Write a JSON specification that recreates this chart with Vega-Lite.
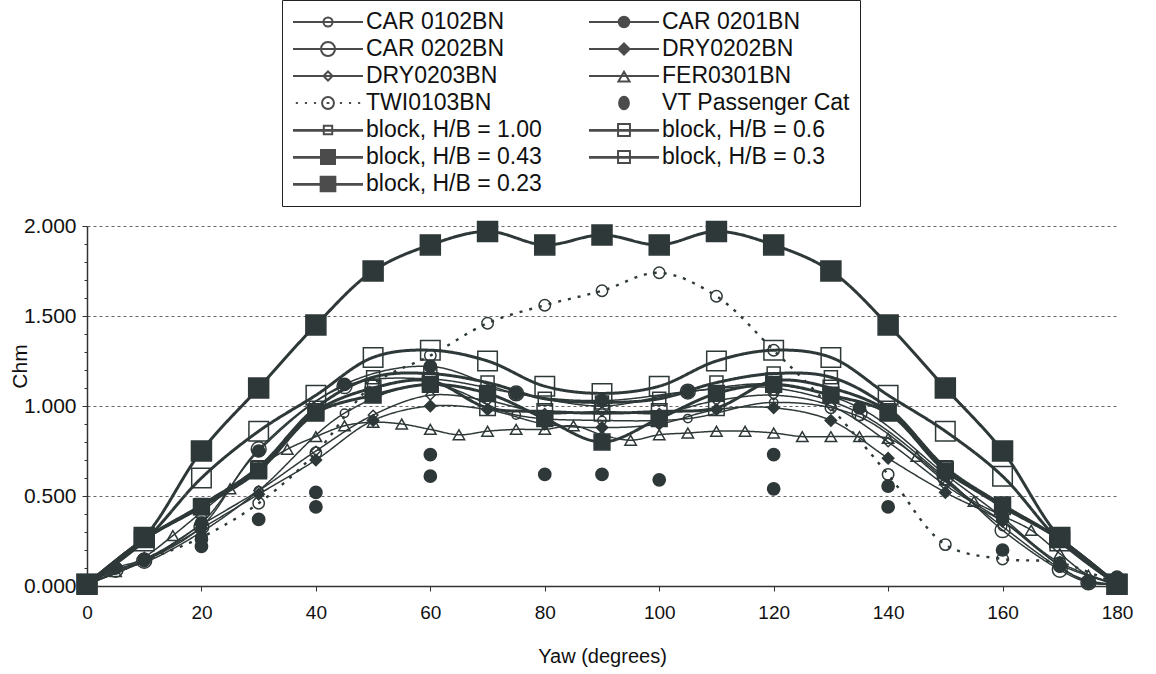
{
  "$schema": "https://vega.github.io/schema/vega-lite/v6.json",
  "width": 1030,
  "height": 360,
  "autosize": {"type": "none"},
  "padding": {"left": 87, "top": 226, "right": 39, "bottom": 88},
  "background": "white",
  "config": {
    "view": {"stroke": null},
    "font": "Liberation Sans",
    "axis": {"labelFont": "Liberation Sans", "titleFont": "Liberation Sans", "titleFontWeight": "normal", "labelColor": "#111", "titleColor": "#111", "domainColor": "#333", "tickColor": "#333", "domainWidth": 1.5}
  },
  "data": {"values": [
    {"s":"CAR 0102BN","x":0,"y":0.01},{"s":"CAR 0102BN","x":5,"y":0.09},{"s":"CAR 0102BN","x":10,"y":0.13},{"s":"CAR 0102BN","x":20,"y":0.3},{"s":"CAR 0102BN","x":30,"y":0.53},{"s":"CAR 0102BN","x":45,"y":0.96},{"s":"CAR 0102BN","x":60,"y":1.12},{"s":"CAR 0102BN","x":75,"y":0.95},{"s":"CAR 0102BN","x":90,"y":0.92},{"s":"CAR 0102BN","x":105,"y":0.93},{"s":"CAR 0102BN","x":120,"y":1.02},{"s":"CAR 0102BN","x":135,"y":0.94},{"s":"CAR 0102BN","x":150,"y":0.58},{"s":"CAR 0102BN","x":160,"y":0.33},{"s":"CAR 0102BN","x":170,"y":0.1},{"s":"CAR 0102BN","x":175,"y":0.03},{"s":"CAR 0102BN","x":180,"y":0.01},
    {"s":"CAR 0201BN","x":0,"y":0.01},{"s":"CAR 0201BN","x":5,"y":0.1},{"s":"CAR 0201BN","x":10,"y":0.15},{"s":"CAR 0201BN","x":20,"y":0.35},{"s":"CAR 0201BN","x":30,"y":0.75},{"s":"CAR 0201BN","x":45,"y":1.12},{"s":"CAR 0201BN","x":60,"y":1.22},{"s":"CAR 0201BN","x":75,"y":1.07},{"s":"CAR 0201BN","x":90,"y":1.03},{"s":"CAR 0201BN","x":105,"y":1.08},{"s":"CAR 0201BN","x":120,"y":1.12},{"s":"CAR 0201BN","x":135,"y":0.99},{"s":"CAR 0201BN","x":150,"y":0.62},{"s":"CAR 0201BN","x":160,"y":0.38},{"s":"CAR 0201BN","x":170,"y":0.11},{"s":"CAR 0201BN","x":175,"y":0.02},{"s":"CAR 0201BN","x":180,"y":0.01},
    {"s":"CAR 0202BN","x":0,"y":0.01},{"s":"CAR 0202BN","x":5,"y":0.09},{"s":"CAR 0202BN","x":10,"y":0.14},{"s":"CAR 0202BN","x":20,"y":0.33},{"s":"CAR 0202BN","x":30,"y":0.76},{"s":"CAR 0202BN","x":45,"y":1.11},{"s":"CAR 0202BN","x":60,"y":1.15},{"s":"CAR 0202BN","x":75,"y":1.07},{"s":"CAR 0202BN","x":90,"y":1.0},{"s":"CAR 0202BN","x":105,"y":1.08},{"s":"CAR 0202BN","x":120,"y":1.1},{"s":"CAR 0202BN","x":135,"y":0.96},{"s":"CAR 0202BN","x":150,"y":0.6},{"s":"CAR 0202BN","x":160,"y":0.31},{"s":"CAR 0202BN","x":170,"y":0.09},{"s":"CAR 0202BN","x":175,"y":0.02},{"s":"CAR 0202BN","x":180,"y":0.01},
    {"s":"DRY0202BN","x":0,"y":0.01},{"s":"DRY0202BN","x":10,"y":0.14},{"s":"DRY0202BN","x":20,"y":0.32},{"s":"DRY0202BN","x":30,"y":0.51},{"s":"DRY0202BN","x":40,"y":0.7},{"s":"DRY0202BN","x":50,"y":0.92},{"s":"DRY0202BN","x":60,"y":1.0},{"s":"DRY0202BN","x":70,"y":0.98},{"s":"DRY0202BN","x":80,"y":0.9},{"s":"DRY0202BN","x":90,"y":0.88},{"s":"DRY0202BN","x":100,"y":0.9},{"s":"DRY0202BN","x":110,"y":0.98},{"s":"DRY0202BN","x":120,"y":0.99},{"s":"DRY0202BN","x":130,"y":0.92},{"s":"DRY0202BN","x":140,"y":0.71},{"s":"DRY0202BN","x":150,"y":0.52},{"s":"DRY0202BN","x":160,"y":0.36},{"s":"DRY0202BN","x":170,"y":0.13},{"s":"DRY0202BN","x":180,"y":0.01},
    {"s":"DRY0203BN","x":0,"y":0.01},{"s":"DRY0203BN","x":10,"y":0.14},{"s":"DRY0203BN","x":20,"y":0.34},{"s":"DRY0203BN","x":30,"y":0.53},{"s":"DRY0203BN","x":40,"y":0.75},{"s":"DRY0203BN","x":50,"y":0.95},{"s":"DRY0203BN","x":60,"y":1.06},{"s":"DRY0203BN","x":70,"y":1.03},{"s":"DRY0203BN","x":80,"y":0.96},{"s":"DRY0203BN","x":90,"y":0.97},{"s":"DRY0203BN","x":100,"y":0.96},{"s":"DRY0203BN","x":110,"y":1.03},{"s":"DRY0203BN","x":120,"y":1.06},{"s":"DRY0203BN","x":130,"y":1.0},{"s":"DRY0203BN","x":140,"y":0.8},{"s":"DRY0203BN","x":150,"y":0.56},{"s":"DRY0203BN","x":160,"y":0.36},{"s":"DRY0203BN","x":170,"y":0.12},{"s":"DRY0203BN","x":180,"y":0.01},
    {"s":"FER0301BN","x":0,"y":0.01},{"s":"FER0301BN","x":5,"y":0.08},{"s":"FER0301BN","x":10,"y":0.16},{"s":"FER0301BN","x":15,"y":0.28},{"s":"FER0301BN","x":20,"y":0.41},{"s":"FER0301BN","x":25,"y":0.54},{"s":"FER0301BN","x":30,"y":0.66},{"s":"FER0301BN","x":35,"y":0.76},{"s":"FER0301BN","x":40,"y":0.83},{"s":"FER0301BN","x":45,"y":0.89},{"s":"FER0301BN","x":50,"y":0.91},{"s":"FER0301BN","x":55,"y":0.9},{"s":"FER0301BN","x":60,"y":0.87},{"s":"FER0301BN","x":65,"y":0.84},{"s":"FER0301BN","x":70,"y":0.86},{"s":"FER0301BN","x":75,"y":0.87},{"s":"FER0301BN","x":80,"y":0.87},{"s":"FER0301BN","x":85,"y":0.89},{"s":"FER0301BN","x":90,"y":0.84},{"s":"FER0301BN","x":95,"y":0.81},{"s":"FER0301BN","x":100,"y":0.84},{"s":"FER0301BN","x":105,"y":0.85},{"s":"FER0301BN","x":110,"y":0.86},{"s":"FER0301BN","x":115,"y":0.86},{"s":"FER0301BN","x":120,"y":0.85},{"s":"FER0301BN","x":125,"y":0.83},{"s":"FER0301BN","x":130,"y":0.83},{"s":"FER0301BN","x":135,"y":0.83},{"s":"FER0301BN","x":140,"y":0.82},{"s":"FER0301BN","x":145,"y":0.72},{"s":"FER0301BN","x":150,"y":0.59},{"s":"FER0301BN","x":155,"y":0.47},{"s":"FER0301BN","x":160,"y":0.39},{"s":"FER0301BN","x":165,"y":0.31},{"s":"FER0301BN","x":170,"y":0.18},{"s":"FER0301BN","x":175,"y":0.06},{"s":"FER0301BN","x":180,"y":0.01},
    {"s":"TWI0103BN","x":0,"y":0.01},{"s":"TWI0103BN","x":10,"y":0.14},{"s":"TWI0103BN","x":20,"y":0.27},{"s":"TWI0103BN","x":30,"y":0.46},{"s":"TWI0103BN","x":40,"y":0.74},{"s":"TWI0103BN","x":50,"y":1.12},{"s":"TWI0103BN","x":60,"y":1.28},{"s":"TWI0103BN","x":70,"y":1.46},{"s":"TWI0103BN","x":80,"y":1.56},{"s":"TWI0103BN","x":90,"y":1.64},{"s":"TWI0103BN","x":100,"y":1.74},{"s":"TWI0103BN","x":110,"y":1.61},{"s":"TWI0103BN","x":120,"y":1.31},{"s":"TWI0103BN","x":130,"y":0.99},{"s":"TWI0103BN","x":140,"y":0.62},{"s":"TWI0103BN","x":150,"y":0.23},{"s":"TWI0103BN","x":160,"y":0.15},{"s":"TWI0103BN","x":170,"y":0.13},{"s":"TWI0103BN","x":180,"y":0.01},
    {"s":"VT Passenger Cat","x":0,"y":0.02},{"s":"VT Passenger Cat","x":20,"y":0.26},{"s":"VT Passenger Cat","x":20,"y":0.22},{"s":"VT Passenger Cat","x":30,"y":0.37},{"s":"VT Passenger Cat","x":40,"y":0.52},{"s":"VT Passenger Cat","x":40,"y":0.44},{"s":"VT Passenger Cat","x":60,"y":0.73},{"s":"VT Passenger Cat","x":60,"y":0.61},{"s":"VT Passenger Cat","x":80,"y":0.62},{"s":"VT Passenger Cat","x":90,"y":0.62},{"s":"VT Passenger Cat","x":100,"y":0.59},{"s":"VT Passenger Cat","x":120,"y":0.73},{"s":"VT Passenger Cat","x":120,"y":0.54},{"s":"VT Passenger Cat","x":140,"y":0.555},{"s":"VT Passenger Cat","x":140,"y":0.44},{"s":"VT Passenger Cat","x":160,"y":0.2},{"s":"VT Passenger Cat","x":180,"y":0.05},
    {"s":"block, H/B = 1.00","x":0,"y":0.01},{"s":"block, H/B = 1.00","x":10,"y":0.26},{"s":"block, H/B = 1.00","x":20,"y":0.45},{"s":"block, H/B = 1.00","x":30,"y":0.66},{"s":"block, H/B = 1.00","x":40,"y":0.99},{"s":"block, H/B = 1.00","x":50,"y":1.16},{"s":"block, H/B = 1.00","x":60,"y":1.18},{"s":"block, H/B = 1.00","x":70,"y":1.13},{"s":"block, H/B = 1.00","x":80,"y":1.04},{"s":"block, H/B = 1.00","x":90,"y":1.02},{"s":"block, H/B = 1.00","x":100,"y":1.04},{"s":"block, H/B = 1.00","x":110,"y":1.13},{"s":"block, H/B = 1.00","x":120,"y":1.18},{"s":"block, H/B = 1.00","x":130,"y":1.16},{"s":"block, H/B = 1.00","x":140,"y":0.99},{"s":"block, H/B = 1.00","x":150,"y":0.66},{"s":"block, H/B = 1.00","x":160,"y":0.45},{"s":"block, H/B = 1.00","x":170,"y":0.26},{"s":"block, H/B = 1.00","x":180,"y":0.01},
    {"s":"block, H/B = 0.6","x":0,"y":0.01},{"s":"block, H/B = 0.6","x":10,"y":0.25},{"s":"block, H/B = 0.6","x":20,"y":0.6},{"s":"block, H/B = 0.6","x":30,"y":0.86},{"s":"block, H/B = 0.6","x":40,"y":1.06},{"s":"block, H/B = 0.6","x":50,"y":1.27},{"s":"block, H/B = 0.6","x":60,"y":1.31},{"s":"block, H/B = 0.6","x":70,"y":1.25},{"s":"block, H/B = 0.6","x":80,"y":1.11},{"s":"block, H/B = 0.6","x":90,"y":1.07},{"s":"block, H/B = 0.6","x":100,"y":1.11},{"s":"block, H/B = 0.6","x":110,"y":1.25},{"s":"block, H/B = 0.6","x":120,"y":1.31},{"s":"block, H/B = 0.6","x":130,"y":1.27},{"s":"block, H/B = 0.6","x":140,"y":1.06},{"s":"block, H/B = 0.6","x":150,"y":0.86},{"s":"block, H/B = 0.6","x":160,"y":0.61},{"s":"block, H/B = 0.6","x":170,"y":0.25},{"s":"block, H/B = 0.6","x":180,"y":0.01},
    {"s":"block, H/B = 0.43","x":0,"y":0.01},{"s":"block, H/B = 0.43","x":10,"y":0.26},{"s":"block, H/B = 0.43","x":20,"y":0.44},{"s":"block, H/B = 0.43","x":30,"y":0.64},{"s":"block, H/B = 0.43","x":40,"y":0.96},{"s":"block, H/B = 0.43","x":50,"y":1.06},{"s":"block, H/B = 0.43","x":60,"y":1.12},{"s":"block, H/B = 0.43","x":70,"y":1.07},{"s":"block, H/B = 0.43","x":80,"y":0.93},{"s":"block, H/B = 0.43","x":90,"y":0.8},{"s":"block, H/B = 0.43","x":100,"y":0.93},{"s":"block, H/B = 0.43","x":110,"y":1.07},{"s":"block, H/B = 0.43","x":120,"y":1.12},{"s":"block, H/B = 0.43","x":130,"y":1.06},{"s":"block, H/B = 0.43","x":140,"y":0.96},{"s":"block, H/B = 0.43","x":150,"y":0.64},{"s":"block, H/B = 0.43","x":160,"y":0.45},{"s":"block, H/B = 0.43","x":170,"y":0.26},{"s":"block, H/B = 0.43","x":180,"y":0.01},
    {"s":"block, H/B = 0.3","x":0,"y":0.01},{"s":"block, H/B = 0.3","x":10,"y":0.26},{"s":"block, H/B = 0.3","x":20,"y":0.44},{"s":"block, H/B = 0.3","x":30,"y":0.65},{"s":"block, H/B = 0.3","x":40,"y":0.97},{"s":"block, H/B = 0.3","x":50,"y":1.1},{"s":"block, H/B = 0.3","x":60,"y":1.14},{"s":"block, H/B = 0.3","x":70,"y":0.99},{"s":"block, H/B = 0.3","x":80,"y":0.97},{"s":"block, H/B = 0.3","x":90,"y":0.96},{"s":"block, H/B = 0.3","x":100,"y":0.97},{"s":"block, H/B = 0.3","x":110,"y":0.99},{"s":"block, H/B = 0.3","x":120,"y":1.14},{"s":"block, H/B = 0.3","x":130,"y":1.1},{"s":"block, H/B = 0.3","x":140,"y":0.97},{"s":"block, H/B = 0.3","x":150,"y":0.65},{"s":"block, H/B = 0.3","x":160,"y":0.44},{"s":"block, H/B = 0.3","x":170,"y":0.26},{"s":"block, H/B = 0.3","x":180,"y":0.01},
    {"s":"block, H/B = 0.23","x":0,"y":0.01},{"s":"block, H/B = 0.23","x":10,"y":0.27},{"s":"block, H/B = 0.23","x":20,"y":0.75},{"s":"block, H/B = 0.23","x":30,"y":1.1},{"s":"block, H/B = 0.23","x":40,"y":1.45},{"s":"block, H/B = 0.23","x":50,"y":1.75},{"s":"block, H/B = 0.23","x":60,"y":1.895},{"s":"block, H/B = 0.23","x":70,"y":1.97},{"s":"block, H/B = 0.23","x":80,"y":1.895},{"s":"block, H/B = 0.23","x":90,"y":1.95},{"s":"block, H/B = 0.23","x":100,"y":1.895},{"s":"block, H/B = 0.23","x":110,"y":1.97},{"s":"block, H/B = 0.23","x":120,"y":1.895},{"s":"block, H/B = 0.23","x":130,"y":1.75},{"s":"block, H/B = 0.23","x":140,"y":1.45},{"s":"block, H/B = 0.23","x":150,"y":1.1},{"s":"block, H/B = 0.23","x":160,"y":0.75},{"s":"block, H/B = 0.23","x":170,"y":0.27},{"s":"block, H/B = 0.23","x":180,"y":0.01}
  ]},
  "encoding": {
    "x": {"field": "x", "type": "quantitative", "scale": {"domain": [0, 180], "nice": false, "zero": false},
      "axis": {"values": [0,20,40,60,80,100,120,140,160,180], "title": "Yaw (degrees)", "grid": false, "labelFontSize": 19, "titleFontSize": 20, "tickSize": 5, "labelPadding": 12, "titlePadding": 24, "labelFlush": false}},
    "y": {"field": "y", "type": "quantitative", "scale": {"domain": [0, 2], "nice": false},
      "axis": {"values": [0,0.1,0.2,0.3,0.4,0.5,0.6,0.7,0.8,0.9,1,1.1,1.2,1.3,1.4,1.5,1.6,1.7,1.8,1.9,2],
        "labelExpr": "abs(datum.value*2 - round(datum.value*2)) < 0.001 ? format(datum.value, '.3f') : ''",
        "title": "Chm", "titleFontSize": 21, "titleX": -57, "titleY": 140, "titleBaseline": "bottom",
        "labelFontSize": 21, "labelPadding": 6, "labelFlush": false,
        "tickSize": {"condition": {"test": "abs(datum.value*2 - round(datum.value*2)) < 0.001", "value": 5}, "value": 3},
        "grid": true, "gridColor": "#666", "gridDash": [3, 3], "gridWidth": 1,
        "gridOpacity": {"condition": {"test": "abs(datum.value*2 - round(datum.value*2)) < 0.001 && datum.value > 0", "value": 1}, "value": 0}}}
  },
  "layer": [
    {
      "transform": [{"filter": "datum.s !== 'VT Passenger Cat'"}],
      "mark": {"type": "line", "interpolate": "catmull-rom", "stroke": "#2f3838"},
      "encoding": {
        "detail": {"field": "s"},
        "strokeWidth": {"field": "s", "type": "nominal", "legend": null,
          "scale": {"type": "ordinal", "domain": ["CAR 0102BN","CAR 0201BN","CAR 0202BN","DRY0202BN","DRY0203BN","FER0301BN","TWI0103BN","block, H/B = 1.00","block, H/B = 0.6","block, H/B = 0.43","block, H/B = 0.3","block, H/B = 0.23"],
            "range": [1.5,1.5,1.5,1.5,1.5,1.5,2.4,3,3,3,3,3]}},
        "strokeDash": {"field": "s", "type": "nominal", "legend": null,
          "scale": {"domain": ["CAR 0102BN","CAR 0201BN","CAR 0202BN","DRY0202BN","DRY0203BN","FER0301BN","TWI0103BN","block, H/B = 1.00","block, H/B = 0.6","block, H/B = 0.43","block, H/B = 0.3","block, H/B = 0.23"],
            "range": [[1,0],[1,0],[1,0],[1,0],[1,0],[1,0],[3,7],[1,0],[1,0],[1,0],[1,0],[1,0]]}}
      }
    },
    {
      "mark": {"type": "point", "filled": true, "stroke": "#2f3838", "strokeWidth": 1.5, "opacity": 1},
      "encoding": {
        "shape": {"field": "s", "type": "nominal", "legend": null,
          "scale": {"domain": ["CAR 0102BN","CAR 0201BN","CAR 0202BN","DRY0202BN","DRY0203BN","FER0301BN","TWI0103BN","VT Passenger Cat","block, H/B = 1.00","block, H/B = 0.6","block, H/B = 0.43","block, H/B = 0.3","block, H/B = 0.23"],
            "range": ["circle","circle","circle","diamond","diamond","triangle-up","circle","circle","square","square","square","square","square"]}},
        "size": {"field": "s", "type": "nominal", "legend": null,
          "scale": {"type": "ordinal", "domain": ["CAR 0102BN","CAR 0201BN","CAR 0202BN","DRY0202BN","DRY0203BN","FER0301BN","TWI0103BN","VT Passenger Cat","block, H/B = 1.00","block, H/B = 0.6","block, H/B = 0.43","block, H/B = 0.3","block, H/B = 0.23"],
            "range": [70,150,220,130,90,130,130,150,170,380,250,240,400]}},
        "color": {"field": "s", "type": "nominal", "legend": null,
          "scale": {"domain": ["CAR 0102BN","CAR 0201BN","CAR 0202BN","DRY0202BN","DRY0203BN","FER0301BN","TWI0103BN","VT Passenger Cat","block, H/B = 1.00","block, H/B = 0.6","block, H/B = 0.43","block, H/B = 0.3","block, H/B = 0.23"],
            "range": ["transparent","#2f3838","transparent","#2f3838","transparent","transparent","transparent","#2f3838","transparent","transparent","#2f3838","transparent","#2f3838"]}}
      }
    },
    {
      "transform": [{"filter": "false"}],
      "mark": {"type": "point", "filled": true, "stroke": "#000000", "strokeWidth": 2},
      "encoding": {
        "color": {"field": "s", "type": "nominal",
          "scale": {"domain": ["CAR 0102BN","CAR 0202BN","DRY0203BN","TWI0103BN","block, H/B = 1.00","block, H/B = 0.43","block, H/B = 0.23","CAR 0201BN","DRY0202BN","FER0301BN","VT Passenger Cat","block, H/B = 0.6","block, H/B = 0.3"],
            "range": ["transparent","transparent","transparent","transparent","transparent","#000000","#000000","#000000","#000000","transparent","#000000","transparent","transparent"]},
          "legend": {"title": null, "orient": "none", "legendX": 195, "legendY": -226, "columns": 2,
            "labelFont": "Liberation Sans", "labelFontSize": 23, "labelColor": "#111", "labelLimit": 0,
            "strokeColor": "#222", "fillColor": "white", "padding": 10, "rowPadding": 3, "columnPadding": 46, "labelOffset": 2,
            "symbolSize": 4900, "clipHeight": 24, "symbolStrokeColor": "#000000", "symbolStrokeWidth": 2}},
        "shape": {"field": "s", "type": "nominal",
          "scale": {"domain": ["CAR 0102BN","CAR 0202BN","DRY0203BN","TWI0103BN","block, H/B = 1.00","block, H/B = 0.43","block, H/B = 0.23","CAR 0201BN","DRY0202BN","FER0301BN","VT Passenger Cat","block, H/B = 0.6","block, H/B = 0.3"],
            "range": [
              "M-1,0L1,0M0.13,0A0.13,0.13 0 1,1 -0.13,0A0.13,0.13 0 1,1 0.13,0Z",
              "M-1,0L1,0M0.2,0A0.2,0.2 0 1,1 -0.2,0A0.2,0.2 0 1,1 0.2,0Z",
              "M-1,0L1,0M0,-0.13L0.13,0L0,0.13L-0.13,0Z",
              "M-0.92,0L-0.86,0M-0.66,0L-0.6,0M-0.4,0L-0.34,0M0.34,0L0.4,0M0.6,0L0.66,0M0.86,0L0.92,0M-0.04,0L0.04,0M0.17,0A0.17,0.17 0 1,1 -0.17,0A0.17,0.17 0 1,1 0.17,0Z",
              "M-1,0L1,0M-1,0.02L1,0.02M-0.12,-0.12L0.12,-0.12L0.12,0.12L-0.12,0.12Z",
              "M-1,0L1,0M-1,0.02L1,0.02M-0.2,-0.2L0.2,-0.2L0.2,0.2L-0.2,0.2Z",
              "M-1,0L1,0M-1,0.02L1,0.02M-0.21,-0.21L0.21,-0.21L0.21,0.21L-0.21,0.21Z",
              "M-1,0L1,0M0.15,0A0.15,0.15 0 1,1 -0.15,0A0.15,0.15 0 1,1 0.15,0Z",
              "M-1,0L1,0M0,-0.16L0.16,0L0,0.16L-0.16,0Z",
              "M-1,0L1,0M0,-0.12L0.16,0.16L-0.16,0.16Z",
              "M0.14,0A0.14,0.18 0 1,1 -0.14,0A0.14,0.18 0 1,1 0.14,0Z",
              "M-1,0L1,0M-1,0.02L1,0.02M-0.17,-0.17L0.17,-0.17L0.17,0.17L-0.17,0.17Z",
              "M-1,0L1,0M-1,0.02L1,0.02M-0.17,-0.17L0.17,-0.17L0.17,0.17L-0.17,0.17Z"
            ]},
          "legend": {"title": null, "orient": "none", "legendX": 195, "legendY": -226, "columns": 2,
            "labelFont": "Liberation Sans", "labelFontSize": 23, "labelColor": "#111", "labelLimit": 0,
            "strokeColor": "#222", "fillColor": "white", "padding": 10, "rowPadding": 3, "columnPadding": 46, "labelOffset": 2,
            "symbolSize": 4900, "clipHeight": 24, "symbolStrokeColor": "#000000", "symbolStrokeWidth": 2}}
      }
    }
  ],
  "resolve": {"scale": {"color": "independent", "shape": "independent", "size": "independent"}}
}
